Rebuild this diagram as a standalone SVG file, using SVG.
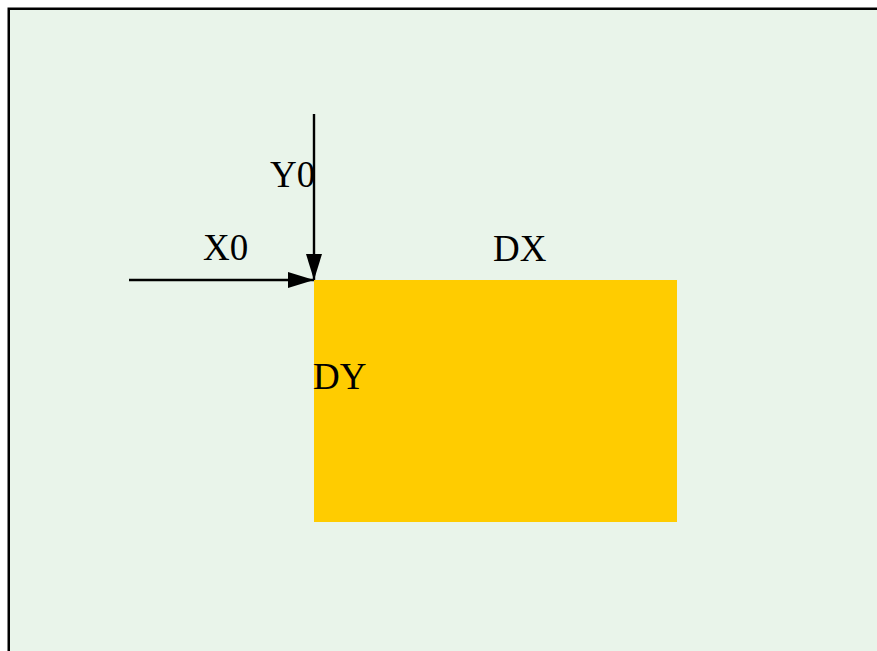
<svg xmlns="http://www.w3.org/2000/svg" width="877" height="651" viewBox="0 0 877 651">
<style>
.lbl{font-family:"Liberation Serif","Times New Roman",serif;font-size:37px;fill:#000}
.conn{stroke:#000;stroke-width:2.4;fill:none}
</style>
<defs>
<marker id="ah" markerUnits="userSpaceOnUse" markerWidth="28" markerHeight="16" refX="26" refY="8" orient="auto">
<path d="M0,0 L26,8 L0,16 Z" fill="#000"/>
</marker>
</defs>
<rect x="0" y="0" width="877" height="651" fill="#fff"/>
<rect id="frame" x="8.75" y="8.75" width="900" height="700" fill="#E9F4EA" stroke="#000" stroke-width="2.5"/>
<g id="rect-node">
<rect x="314" y="280" width="363" height="242" fill="#FFCC00"/>
</g>
<g id="connectors">
<line class="conn" x1="129" y1="280" x2="314" y2="280" marker-end="url(#ah)"/>
<line class="conn" x1="314" y1="114" x2="314" y2="280" marker-end="url(#ah)"/>
</g>
<g id="labels">
<text class="lbl" x="203" y="260">X0</text>
<text class="lbl" x="270" y="187">Y0</text>
<text class="lbl" x="493" y="261">DX</text>
<text class="lbl" x="313" y="389">DY</text>
</g>
</svg>
